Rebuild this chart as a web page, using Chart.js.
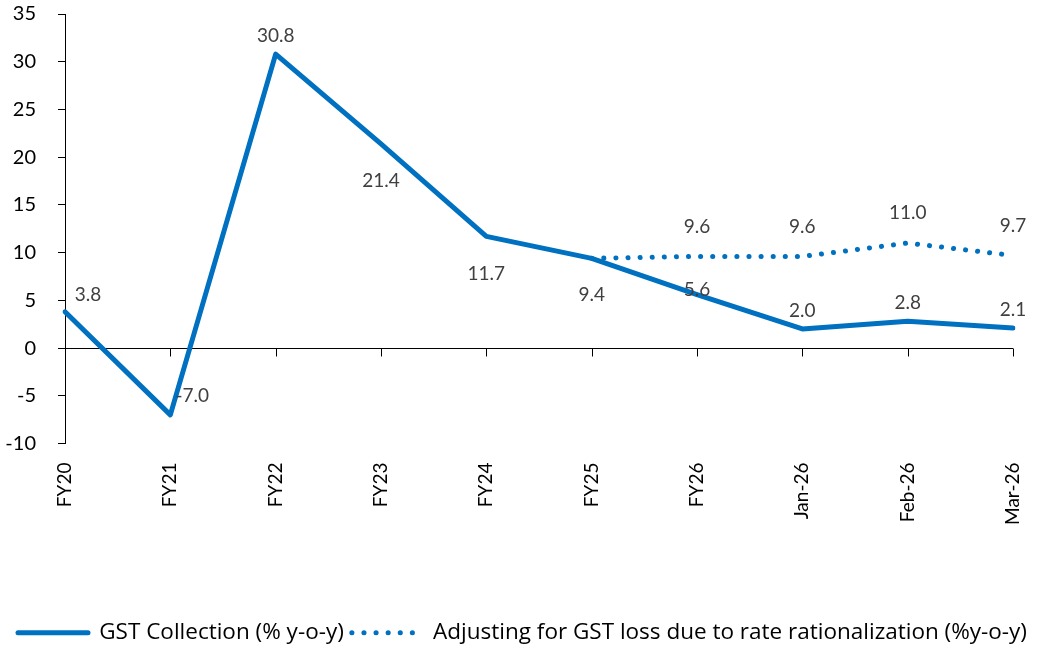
<!DOCTYPE html>
<html>
<head>
<meta charset="utf-8">
<script src="https://cdn.jsdelivr.net/npm/chart.js@4.4.1/dist/chart.umd.min.js"></script>
<style>
    html, body { margin: 0; padding: 0; background: #fff; }
    #wrap { width: 1045px; height: 647px; }
</style>
</head>
<body>
<div id="wrap"><canvas id="chart"></canvas></div>
<script>
// chart data
var categories = ['FY20', 'FY21', 'FY22', 'FY23', 'FY24', 'FY25', 'FY26', 'Jan-26', 'Feb-26', 'Mar-26'];
var gstCollection = [3.8, -7.0, 30.8, 21.4, 11.7, 9.4, 5.6, 2.0, 2.8, 2.1];
var gstAdjusted = [null, null, null, null, null, 9.4, 9.6, 9.6, 11.0, 9.7];
var adjustedLabelShown = [false, false, false, false, false, false, true, true, true, true];
var yTicks = [-10, -5, 0, 5, 10, 15, 20, 25, 30, 35];

// where each value label sits relative to its point
var collectionLabelPos = ['aboveRight', 'right', 'above', 'below', 'below', 'below', 'center', 'above', 'above', 'above'];

var BLUE = '#0070C0';
var FONT = 'Lato, "Noto Sans", sans-serif';
var LEGEND_FONT = '"Open Sans", "Noto Sans", sans-serif';

var valueLabels = {
    id: 'valueLabels',
    afterDatasetsDraw: function(chart) {
        var ctx = chart.ctx;
        ctx.save();
        ctx.font = '19px ' + FONT;
        ctx.fillStyle = '#404040';
        ctx.textAlign = 'center';
        ctx.textBaseline = 'middle';

        var m0 = chart.getDatasetMeta(0);
        m0.data.forEach(function(pt, i) {
            var x = pt.x, y = pt.y;
            switch (collectionLabelPos[i]) {
                case 'aboveRight': x += 23; y -= 17; break;
                case 'right': x += 22; y -= 19; break;
                case 'above': y -= 18; break;
                case 'below': y += 37; break;
                case 'center': y -= 5; break;
            }
            ctx.fillText(gstCollection[i].toFixed(1), x, y);
        });

        var m1 = chart.getDatasetMeta(1);
        m1.data.forEach(function(pt, i) {
            if (!adjustedLabelShown[i]) return;
            ctx.fillText(gstAdjusted[i].toFixed(1), pt.x, pt.y - 30);
        });
        ctx.restore();
    }
};

// x axis line sits on zero, ticks hang below it
var zeroAxis = {
    id: 'zeroAxis',
    beforeDatasetsDraw: function(chart) {
        var ctx = chart.ctx;
        var xs = chart.scales.x, ys = chart.scales.y;
        var y0 = Math.round(ys.getPixelForValue(0)) + 0.5;
        ctx.save();
        ctx.strokeStyle = '#000';
        ctx.lineWidth = 1;
        ctx.beginPath();
        ctx.moveTo(chart.chartArea.left, y0);
        ctx.lineTo(chart.chartArea.right, y0);
        categories.forEach(function(c, i) {
            var x = Math.round(xs.getPixelForValue(i)) + 0.5;
            ctx.moveTo(x, y0);
            ctx.lineTo(x, y0 + 8);
        });
        ctx.stroke();
        ctx.restore();
    }
};

new Chart(document.getElementById('chart'), {
    type: 'line',
    data: {
        labels: categories,
        datasets: [{
            label: 'GST Collection (% y-o-y)',
            data: gstCollection,
            borderColor: BLUE,
            backgroundColor: BLUE,
            borderWidth: 5,
            pointRadius: 0,
            tension: 0,
            borderCapStyle: 'round',
            borderJoinStyle: 'round'
        }, {
            label: 'Adjusting for GST loss due to rate rationalization (%y-o-y)',
            data: gstAdjusted,
            borderColor: BLUE,
            backgroundColor: BLUE,
            borderWidth: 5,
            borderDash: [0.1, 12],
            borderCapStyle: 'round',
            pointRadius: 0,
            tension: 0
        }]
    },
    options: {
        responsive: true,
        maintainAspectRatio: false,
        animation: false,
        layout: { padding: { top: 14, right: 0, bottom: -7, left: 0 } },
        plugins: {
            legend: {
                position: 'bottom',
                labels: {
                    usePointStyle: true,
                    pointStyle: 'line',
                    pointStyleWidth: 70,
                    boxHeight: 19,
                    color: '#000',
                    padding: 8,
                    font: { size: 22.5, family: LEGEND_FONT },
                    generateLabels: function(chart) {
                        var items = Chart.defaults.plugins.legend.labels.generateLabels(chart);
                        items.forEach(function(it) {
                            var ds = chart.data.datasets[it.datasetIndex];
                            it.lineDash = ds.borderDash || [];
                            it.lineCap = ds.borderCapStyle || 'butt';
                            it.lineWidth = 5;
                        });
                        return items;
                    }
                }
            },
            tooltip: { enabled: false }
        },
        scales: {
            x: {
                offset: false,
                grid: { display: false, drawTicks: false },
                border: { display: false },
                afterFit: function(scale) {
                    scale.height = 170;
                    scale.paddingLeft = 0;
                    scale.paddingRight = 32;
                },
                ticks: {
                    autoSkip: false,
                    maxRotation: 90,
                    minRotation: 90,
                    padding: 19,
                    color: '#000',
                    font: { size: 19, family: FONT }
                }
            },
            y: {
                min: -10,
                max: 35,
                afterBuildTicks: function(scale) {
                    scale.ticks = yTicks.map(function(v) { return { value: v }; });
                },
                afterFit: function(scale) {
                    scale.width = 65;
                    scale.paddingTop = 0;
                    scale.paddingBottom = 0;
                },
                grid: { drawOnChartArea: false, drawTicks: true, tickLength: 7, color: '#000' },
                border: { display: true, color: '#000', width: 1 },
                ticks: {
                    padding: 22,
                    color: '#000',
                    font: { size: 20, family: FONT }
                }
            }
        }
    },
    plugins: [zeroAxis, valueLabels]
});
</script>
</body>
</html>
